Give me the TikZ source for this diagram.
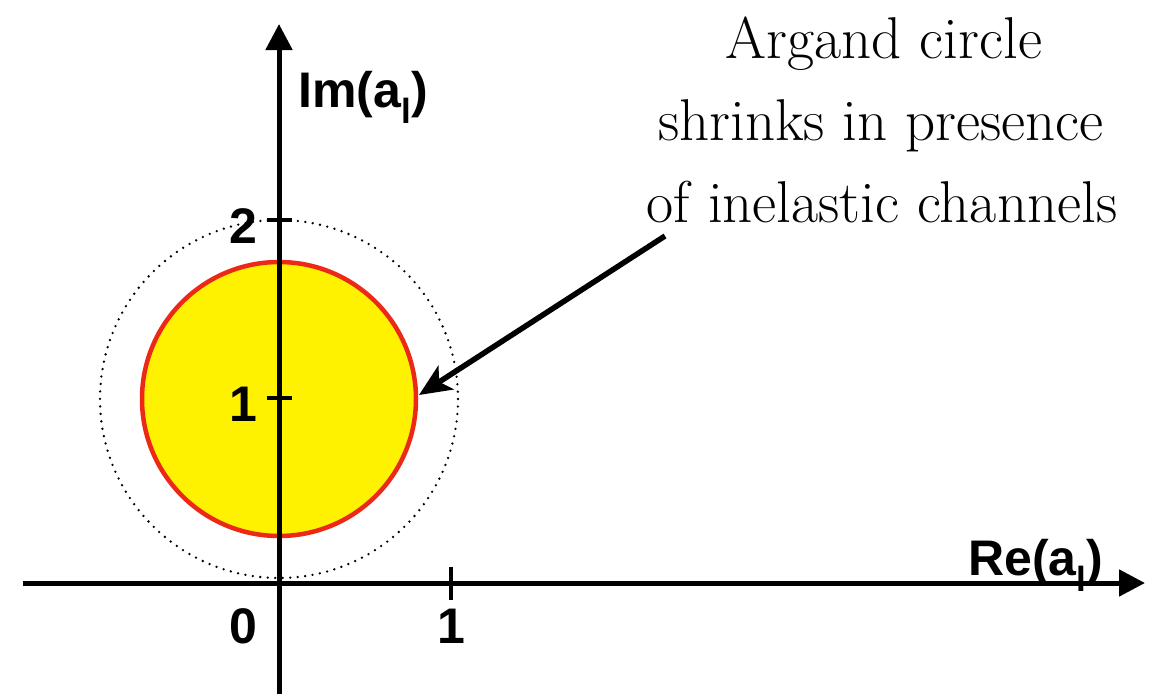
\documentclass[tikz,border=0pt]{standalone}
\usepackage{fontspec}
\newfontfamily\helv{Liberation Sans}
\usetikzlibrary{arrows.meta}
\definecolor{ringred}{RGB}{236,40,22}
\begin{document}
\begin{tikzpicture}[x=1pt,y=-1pt,
  axis/.style={line width=5pt,-{Triangle[length=26pt,width=26pt]}},
  tick/.style={line width=4pt},
  lab/.style={font=\helv\bfseries\fontsize{50}{50}\selectfont,inner sep=0pt},
  note/.style={font=\fontsize{59}{82}\selectfont,inner sep=0pt,anchor=base}]
\useasboundingbox (0,0) rectangle (1160,694);
% circles
\coordinate (c) at (279,399);
\draw[line width=2.6pt,line cap=round,dash pattern=on 0pt off 7.5pt] (c) circle[radius=179];
\draw[ringred,line width=4.5pt,fill=yellow] (c) circle[radius=137];
% axes
\coordinate (xs) at (23,583);
\coordinate (xe) at (1145,583);
\coordinate (ys) at (279,694);
\coordinate (ye) at (279,24);
\draw[axis] (xs) -- (xe);
\draw[axis] (ys) -- (ye);
% ticks
\draw[tick] (267,220) -- (292,220);
\draw[tick] (267,398) -- (292,398);
\draw[tick] (451,567) -- (451,600);
% labels
\node[lab,anchor=base east] (l2) at (258,243) {2};
\node[lab,anchor=base east] (l1) at (258,421) {1};
\node[lab,anchor=base east] (l0) at (258,643) {0};
\node[lab,anchor=base] (lx1) at (451,643) {1};
\node[lab,anchor=base west] (im) at (298,107) {Im(a\textsubscript{l})};
\node[lab,anchor=base west] (re) at (968,575) {Re(a\textsubscript{l})};
% note
\node[note] (n1) at (884,58) {Argand circle};
\node[note] (n2) at (881,140) {shrinks in presence};
\node[note] (n3) at (882,222) {of inelastic channels};
\coordinate (tip) at (419,395);
\coordinate (tail) at (665,236);
\draw[line width=5.5pt,-{Stealth[length=32pt,width=28pt,inset=8pt]}] (tail) -- (tip);
\end{tikzpicture}
\end{document}
